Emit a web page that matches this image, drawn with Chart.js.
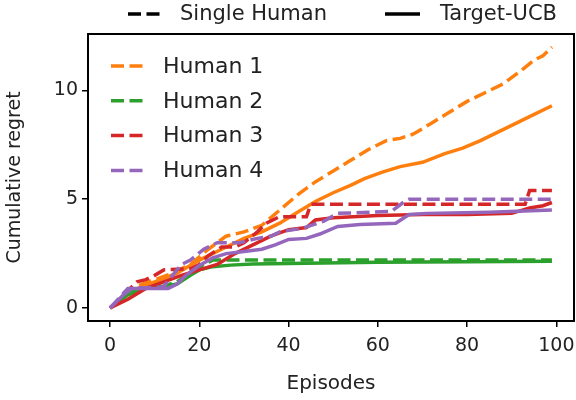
<!DOCTYPE html>
<html>
<head>
<meta charset="utf-8">
<script src="https://cdn.jsdelivr.net/npm/chart.js@4.4.1/dist/chart.umd.min.js"></script>
<style>
  html, body { margin: 0; padding: 0; background: #fff; }
  #wrap { width: 576px; height: 400px; }
</style>
</head>
<body>
<div id="wrap"><canvas id="regretChart"></canvas></div>
<script>
// [episode, cumulative regret]
const human1Single = [[0,0],[3,0.6],[6,1.0],[10,1.3],[14,1.6],[18,2.0],[22,2.7],[26,3.3],[30,3.5],[34,3.8],[38,4.5],[42,5.2],[46,5.8],[50,6.3],[54,6.8],[58,7.3],[62,7.7],[65,7.8],[68,8.0],[72,8.5],[76,9.0],[80,9.5],[84,9.9],[88,10.3],[92,10.9],[95,11.4],[97,11.6],[99,12.0]];
const human1Target = [[0,0],[5,0.8],[10,1.2],[15,1.6],[20,2.2],[25,2.7],[30,3.2],[34,3.5],[38,3.9],[42,4.4],[46,4.9],[50,5.3],[54,5.65],[57,5.95],[61,6.25],[65,6.5],[70,6.7],[75,7.1],[79,7.35],[83,7.7],[87,8.1],[90,8.4],[94,8.8],[99,9.3]];
const human2Single = [[0,0],[4,0.7],[8,0.9],[12,1.0],[15,1.2],[18,1.6],[21,2.0],[23,2.2],[40,2.2],[60,2.2],[80,2.2],[99,2.2]];
const human2Target = [[0,0],[4,0.6],[8,0.9],[12,1.0],[15,1.1],[18,1.5],[20,1.75],[23,1.9],[27,1.97],[32,2.02],[40,2.05],[60,2.1],[80,2.12],[99,2.15]];
const human3Single = [[0,0],[3,0.6],[6,1.2],[8,1.3],[10,1.5],[12,1.75],[18,1.8],[20,2.0],[22,2.4],[25,2.8],[28,2.8],[30,3.0],[33,3.5],[35,3.9],[38,4.2],[44,4.2],[45,4.77],[93,4.77],[94,5.4],[99,5.4]];
const human3Target = [[0,0],[4,0.4],[8,0.9],[12,1.2],[16,1.5],[20,1.75],[24,2.0],[28,2.5],[32,2.9],[36,3.3],[40,3.6],[44,3.7],[46,4.05],[50,4.15],[60,4.25],[70,4.3],[80,4.3],[90,4.35],[94,4.6],[97,4.7],[99,4.85]];
const human4Single = [[0,0],[4,0.9],[12,0.97],[14,1.5],[16,2.0],[18,2.2],[21,2.7],[24,3.0],[29,3.0],[33,3.2],[36,3.3],[38,3.5],[43,3.66],[48,4.0],[51,4.35],[63,4.44],[66,4.9],[67,5.0],[99,5.0]];
const human4Target = [[0,0],[3,0.6],[5,0.9],[13,0.9],[15,1.1],[17,1.5],[20,1.95],[23,2.3],[26,2.5],[30,2.6],[34,2.7],[37,2.9],[40,3.15],[44,3.2],[47,3.4],[51,3.75],[56,3.84],[64,3.9],[67,4.3],[71,4.35],[85,4.4],[99,4.5]];

const humanNames = ['Human 1', 'Human 2', 'Human 3', 'Human 4'];
const humanColors = ['#ff7f0e', '#2ca02c', '#d62728', '#9467bd'];
const singleRuns = [human1Single, human2Single, human3Single, human4Single];
const targetRuns = [human1Target, human2Target, human3Target, human4Target];
const methodNames = ['Single Human', 'Target-UCB'];
const xTickValues = [0, 20, 40, 60, 80, 100];
const yTickValues = [0, 5, 10];

const FONT = '"DejaVu Sans", sans-serif';
const DASH = [13, 5.5];
const LW = 3.5;

const datasets = [];
humanNames.forEach(function (name, i) {
    datasets.push({
        label: name + ' (' + methodNames[0] + ')',
        data: singleRuns[i].map(p => ({ x: p[0], y: p[1] })),
        borderColor: humanColors[i],
        borderDash: DASH
    });
    datasets.push({
        label: name + ' (' + methodNames[1] + ')',
        data: targetRuns[i].map(p => ({ x: p[0], y: p[1] })),
        borderColor: humanColors[i]
    });
});
datasets.forEach(function (d, i) {
    d.order = -i;
    d.borderWidth = LW;
    d.pointRadius = 0;
    d.tension = 0;
    d.fill = false;
    d.borderCapStyle = 'butt';
});

function legendLine(ctx, x0, x1, y, color, dashed) {
    ctx.save();
    ctx.strokeStyle = color;
    ctx.lineWidth = LW;
    ctx.setLineDash(dashed ? DASH : []);
    ctx.beginPath();
    ctx.moveTo(x0, y);
    ctx.lineTo(x1, y);
    ctx.stroke();
    ctx.restore();
}

const extras = {
    id: 'extras',
    afterDatasetsDraw(chart) {
        const ctx = chart.ctx;
        const a = chart.chartArea;
        // axes frame
        ctx.save();
        ctx.strokeStyle = '#000';
        ctx.lineWidth = 2;
        ctx.strokeRect(a.left, a.top, a.right - a.left, a.bottom - a.top);
        ctx.restore();

        ctx.save();
        ctx.fillStyle = '#222';
        ctx.textBaseline = 'middle';
        ctx.font = '21px ' + FONT;
        // method legend above the axes
        legendLine(ctx, 128, 162, 14, '#000', true);
        ctx.fillText(methodNames[0], 180, 15);
        legendLine(ctx, 385, 420, 14, '#000', false);
        ctx.fillText(methodNames[1], 440, 15);
        // human legend inside the axes
        ctx.font = '22px ' + FONT;
        humanNames.forEach(function (name, i) {
            const y = 66 + i * 34.8;
            legendLine(ctx, 111, 143, y, humanColors[i], true);
            ctx.fillText(name, 163, y + 1);
        });
        ctx.restore();
    }
};

const tickGrid = {
    display: true,
    drawOnChartArea: false,
    drawTicks: true,
    tickLength: 6,
    color: '#000',
    lineWidth: 1.5
};

new Chart(document.getElementById('regretChart').getContext('2d'), {
    type: 'line',
    data: { datasets: datasets },
    options: {
        responsive: true,
        maintainAspectRatio: false,
        animation: false,
        layout: { padding: { top: 34, right: 2, left: 0, bottom: 0 } },
        scales: {
            x: {
                type: 'linear',
                min: -4.95,
                max: 103.95,
                afterBuildTicks: s => { s.ticks = xTickValues.map(v => ({ value: v })); },
                afterFit: s => { s.height = 79; s.paddingLeft = 0; s.paddingRight = 0; },
                grid: tickGrid,
                border: { display: false },
                ticks: { color: '#222', font: { family: FONT, size: 19 }, padding: 8, maxRotation: 0 },
                title: { display: true, text: 'Episodes', color: '#222', font: { family: FONT, size: 20 }, padding: { top: 0 } }
            },
            y: {
                type: 'linear',
                min: -0.6,
                max: 12.6,
                afterBuildTicks: s => { s.ticks = yTickValues.map(v => ({ value: v })); },
                afterFit: s => { s.width = 88; s.paddingTop = 0; s.paddingBottom = 0; },
                grid: tickGrid,
                border: { display: false },
                ticks: { color: '#222', font: { family: FONT, size: 19 }, padding: 4 },
                title: { display: true, text: 'Cumulative regret', color: '#222', font: { family: FONT, size: 19 }, padding: { bottom: 4 } }
            }
        },
        plugins: {
            legend: { display: false },
            tooltip: { enabled: false }
        }
    },
    plugins: [extras]
});
</script>
</body>
</html>
